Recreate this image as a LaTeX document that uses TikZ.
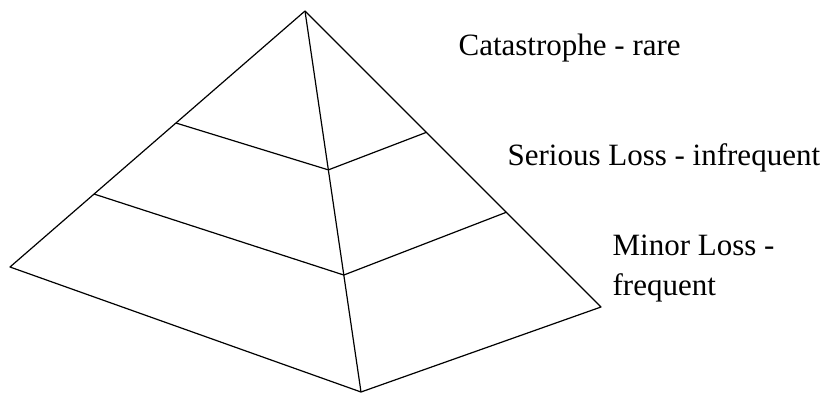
\documentclass[tikz,border=0pt]{standalone}
\usepackage{fontspec}
\setmainfont{Liberation Serif}
\usetikzlibrary{calc}
\begin{document}
\begin{tikzpicture}[x=1pt,y=-1pt,line width=1.2pt,line join=round,
    level/.style={font=\fontsize{31}{40}\selectfont,anchor=base west,inner sep=0pt,align=left}]
        \useasboundingbox (0,0) rectangle (831,394);
        % corners of the pyramid
        \coordinate (apex) at (305,11);
        \coordinate (left) at (10,267);
        \coordinate (front) at (361,392);
        \coordinate (right) at (601,307);
        % outline and front edge
        \draw (apex) -- (left) -- (front) -- (right) -- cycle;
        \draw (apex) -- (front);
        % the two level lines
        \draw ($(apex)!0.4375!(left)$) -- ($(apex)!0.417!(front)$) -- ($(apex)!0.41!(right)$);
        \draw ($(apex)!0.715!(left)$) -- ($(apex)!0.693!(front)$) -- ($(apex)!0.68!(right)$);
        \node [level] (top) at (458,55) {Catastrophe - rare};
        \node [level] (mid) at (507,165) {Serious Loss - infrequent};
        \node [level] (low) at (612,295) {Minor Loss -\\frequent};
    \end{tikzpicture}
\end{document}
